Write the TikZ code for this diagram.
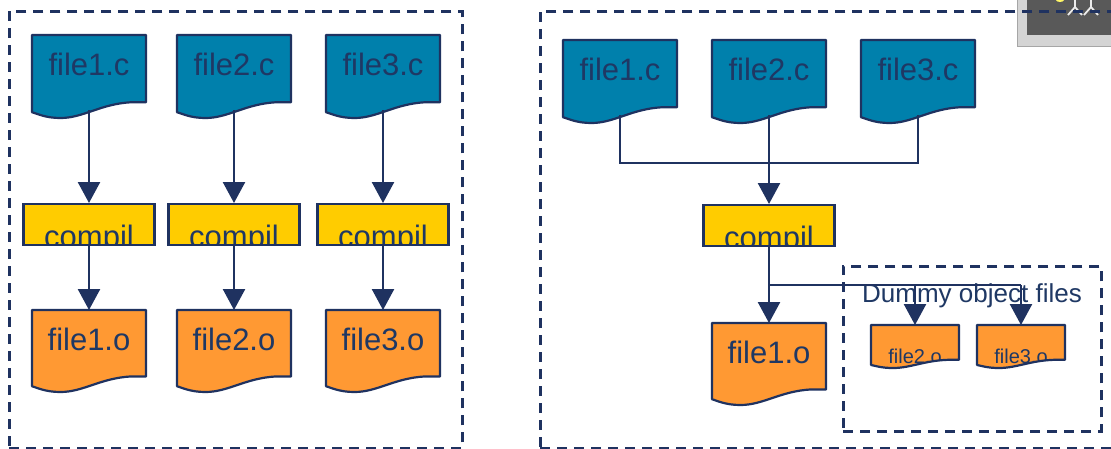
\documentclass[tikz,border=0pt]{standalone}
\usepackage{fontspec}
\setmainfont{Liberation Sans}
\usetikzlibrary{arrows.meta}
\definecolor{navy}{HTML}{1F3260}
\definecolor{txtnavy}{HTML}{1F3864}
\definecolor{cblue}{HTML}{0080AC}
\definecolor{oorange}{HTML}{FF9933}
\definecolor{cyellow}{HTML}{FFCC00}
\definecolor{lgray}{HTML}{D4D4D4}
\definecolor{dgray}{HTML}{595959}
\newcommand\docpath[4]{(#1,#2) -- ({#1+#3},#2) -- ({#1+#3},{#2+0.81*#4}) -- ({#1+0.87*#3},{#2+0.81*#4}) .. controls ({#1+0.6*#3},{#2+0.83*#4}) and ({#1+0.45*#3},{#2+1.0*#4}) .. ({#1+0.25*#3},{#2+#4}) .. controls ({#1+0.12*#3},{#2+#4}) and ({#1+0.05*#3},{#2+0.95*#4}) .. (#1,{#2+0.93*#4}) -- cycle}
% #1 name, #2 left, #3 top, #4 width, #5 height, #6 fill, #7 text, #8 font size, #9 baseline offset
\newcommand\mydoc[9]{%
  \fill[#6] \docpath{#2}{#3}{#4}{#5};
  \begin{scope}
    \clip \docpath{#2}{#3}{#4}{#5};
    \node[doctext, font=\fontsize{#8}{#8}\selectfont] at ({#2+0.5*#4},{#3+#9}) {#7};
  \end{scope}
  \draw[docborder] \docpath{#2}{#3}{#4}{#5};
  \node[docanchor, minimum width=#4pt, minimum height={0.9*#5pt}] (#1) at ({#2+0.5*#4},#3) {};
}
\tikzset{
  doctext/.style={anchor=base, inner sep=0pt, text=txtnavy},
  docborder/.style={draw=navy, line width=2.2pt, line join=round},
  docanchor/.style={anchor=north, inner sep=0pt, draw=none},
  compbox/.style={draw=navy, fill=cyellow, line width=2.2pt, inner sep=0pt,
    minimum width=131pt, minimum height=41pt, anchor=north,
    path picture={\node[anchor=base, inner sep=0pt, text=txtnavy,
      font=\fontsize{31}{31}\selectfont] at ([yshift=-2pt]path picture bounding box.south) {compil};}},
  conn/.style={draw=navy, line width=2.5pt},
  arr/.style={conn, -{Triangle[length=21pt,width=22pt]}},
  dashbox/.style={draw=navy, line width=2.5pt, dash pattern=on 10pt off 7pt, inner sep=0pt, anchor=north west},
}
\begin{document}
\begin{tikzpicture}[x=1pt,y=-1pt]
\useasboundingbox (0,0) rectangle (1111,448);
\clip (0,0) rectangle (1111,448);
\fill[white] (0,0) rectangle (1111,448);

% window fragment top right
\fill[lgray] (1017,-2) rectangle (1113,47);
\draw[color=gray!70, line width=1pt] (1017.5,-2) -- (1017.5,46.5) -- (1113,46.5);
\fill[dgray] (1027,-2) rectangle (1113,35);
\fill[yellow!60!white] (1060,0) ellipse (4pt and 2pt);
\draw[white!85!gray, line width=1.8pt] (1068,15) -- (1075,7) -- (1082,15) (1075,7) -- (1075,0)
  (1084,15) -- (1091,7) -- (1098,15) (1091,7) -- (1091,0);

% dashed frames
\node[dashbox, minimum width=453pt, minimum height=437pt] (leftframe) at (8,10) {};
\node[dashbox, minimum width=580pt, minimum height=437pt] (rightframe) at (539,10) {};
\node[dashbox, minimum width=258pt, minimum height=165pt] (dummyframe) at (842,265) {};

% left column
\mydoc{lc1}{32}{35}{114}{83}{cblue}{file1.c}{31}{40}
\mydoc{lc2}{177}{35}{114}{83}{cblue}{file2.c}{31}{40}
\mydoc{lc3}{326}{35}{114}{83}{cblue}{file3.c}{31}{40}
\node[compbox] (lk1) at (89,203) {};
\node[compbox] (lk2) at (234,203) {};
\node[compbox] (lk3) at (383,203) {};
\mydoc{lo1}{32}{310}{114}{82}{oorange}{file1.o}{31}{40}
\mydoc{lo2}{177}{310}{114}{82}{oorange}{file2.o}{31}{40}
\mydoc{lo3}{326}{310}{114}{82}{oorange}{file3.o}{31}{40}

\draw[arr] (lc1.south) -- (lk1.north);
\draw[arr] (lc2.south) -- (lk2.north);
\draw[arr] (lc3.south) -- (lk3.north);
\draw[arr] (lk1.south) -- (lo1.north);
\draw[arr] (lk2.south) -- (lo2.north);
\draw[arr] (lk3.south) -- (lo3.north);

% right side
\mydoc{rc1}{563}{40}{114}{83}{cblue}{file1.c}{31}{40}
\mydoc{rc2}{712}{40}{114}{83}{cblue}{file2.c}{31}{40}
\mydoc{rc3}{861}{40}{114}{83}{cblue}{file3.c}{31}{40}
\node[compbox] (rk) at (769,204) {};
\mydoc{ro1}{712}{323}{114}{82}{oorange}{file1.o}{31}{40}
\mydoc{ro2}{871}{325}{88}{43}{oorange}{file2.o}{20}{38}
\mydoc{ro3}{977}{325}{88}{43}{oorange}{file3.o}{20}{38}
\node[anchor=base, inner sep=0pt, text=txtnavy, font=\fontsize{26}{26}\selectfont] (dlabel) at (972,302) {Dummy object files};

\coordinate (jn) at (rc2.south |- 0,163);
\draw[conn] (rc1.south) |- (jn) -| (rc3.south);
\draw[arr] (rc2.south) -- (rk.north);
\draw[arr] (rk.south) -- (ro1.north);
\coordinate (br) at (rk.south |- 0,285);
\draw[conn] (br) -- (br -| ro3.north);
\draw[arr] (br -| ro2.north) -- (ro2.north);
\draw[arr] (br -| ro3.north) -- (ro3.north);
\end{tikzpicture}
\end{document}
